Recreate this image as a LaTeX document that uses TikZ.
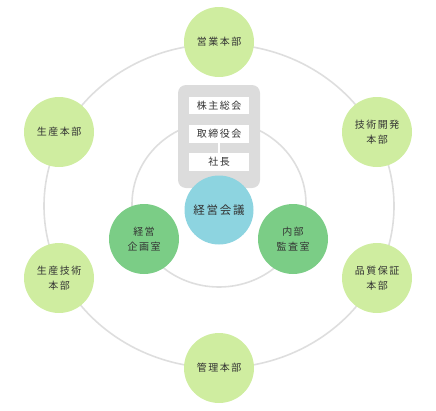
\documentclass[tikz,border=0pt]{standalone}
\usepackage{fontspec}
\newfontfamily\jp[LetterSpace=15]{Noto Sans CJK JP}
\definecolor{ringgray}{HTML}{DEDEDE}
\definecolor{boxgray}{HTML}{DCDCDC}
\definecolor{deptgreen}{HTML}{CFEDA0}
\definecolor{officegreen}{HTML}{7BCD86}
\definecolor{councilblue}{HTML}{8DD4E0}
\definecolor{textgray}{HTML}{333333}
\begin{document}
\begin{tikzpicture}[x=1pt,y=-1pt,
  ring/.style={draw=ringgray, line width=1.6pt},
  dept/.style={circle, fill=deptgreen, minimum size=70pt, inner sep=0pt, align=center,
    text=textgray, font=\jp\fontsize{10}{15}\selectfont},
  office/.style={dept, fill=officegreen},
  council/.style={dept, fill=councilblue, minimum size=69pt, font=\jp\fontsize{11.5}{15}\selectfont},
  board/.style={fill=boxgray, rounded corners=8pt, minimum width=82pt, minimum height=103pt, inner sep=0pt},
  govbox/.style={fill=white, minimum width=60pt, minimum height=17.5pt, inner sep=0pt,
    text=textgray, font=\jp\fontsize{10}{12}\selectfont},
  link/.style={draw=white, line width=1.5pt}]
\useasboundingbox (0,0) rectangle (436,410);
% rings
\draw[ring] (219,206) ellipse [x radius=175, y radius=162];
\draw[ring] (219,204) ellipse [x radius=87, y radius=83];
% governance box
\node[board] (gov) at (219,136.5) {};
\node[govbox] (kabunushi) at (219,105.5) {株主総会};
\node[govbox] (torishimari) at (219,134) {取締役会};
\node[govbox] (shacho) at (219,162) {社長};
\draw[link] (torishimari) -- (shacho);
% center
\node[council] (kaigi) at (219,210) {経営会議};
\node[office] (kikaku) at (144,239) {経営\\企画室};
\node[office] (kansa) at (293,239) {内部\\監査室};
% departments
\node[dept] (eigyo) at (219,42) {営業本部};
\node[dept] (gijutsu) at (377,132) {技術開発\\本部};
\node[dept] (hinshitsu) at (377,278) {品質保証\\本部};
\node[dept] (kanri) at (219,368) {管理本部};
\node[dept] (seigi) at (59,278) {生産技術\\本部};
\node[dept] (seisan) at (59,132) {生産本部};
\end{tikzpicture}
\end{document}
